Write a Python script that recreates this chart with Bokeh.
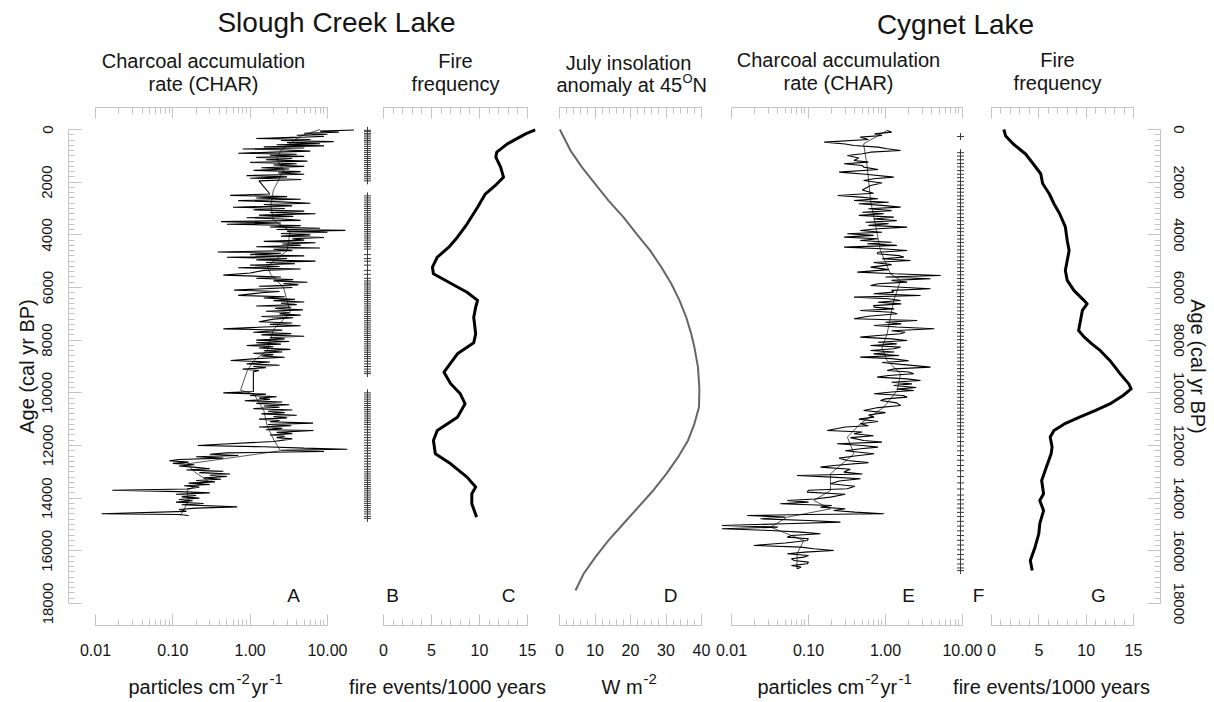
import math
from bokeh.plotting import figure
from bokeh.models import (Range1d, FixedTicker, LinearAxis, LogAxis, Label,
                          PrintfTickFormatter, LinearScale)
from bokeh.layouts import row, column
from bokeh.embed import file_html
from bokeh.resources import INLINE

# ---------------------------------------------------------------- data
# Slough Creek Lake: charcoal accumulation rate (raw series, A)
slough_char_age = [
    20, 60, 100, 140, 180, 220, 260, 300, 340, 380,
    420, 460, 500, 540, 580, 620, 660, 700, 740, 780,
    820, 860, 900, 940, 980, 1020, 1060, 1100, 1150, 1200,
    1250, 1300, 1350, 1400, 1450, 1500, 1550, 1600, 1650, 1700,
    1750, 1800, 1850, 1900, 1950, 2450, 2500, 2550, 2600, 2650,
    2700, 2750, 2800, 2850, 2900, 2950, 3000, 3050, 3100, 3150,
    3200, 3250, 3300, 3350, 3400, 3450, 3500, 3550, 3600, 3650,
    3700, 3750, 3800, 3830, 3870, 3900, 3950, 4000, 4050, 4100,
    4150, 4200, 4250, 4300, 4350, 4400, 4450, 4500, 4550, 4600,
    4650, 4700, 4750, 4800, 4850, 4900, 4950, 5000, 5050, 5100,
    5150, 5200, 5250, 5300, 5350, 5450, 5530, 5600, 5650, 5700,
    5750, 5800, 5850, 5900, 5950, 6000, 6100, 6150, 6200, 6300,
    6350, 6400, 6450, 6500, 6550, 6600, 6650, 6700, 6750, 6800,
    6850, 6900, 6950, 7000, 7050, 7100, 7150, 7200, 7300, 7350,
    7400, 7450, 7500, 7570, 7620, 7700, 7750, 7800, 7850, 7900,
    7950, 8000, 8050, 8100, 8150, 8200, 8250, 8300, 8350, 8400,
    8450, 8500, 8550, 8600, 8650, 8700, 8770, 8830, 8900, 8950,
    9000, 9050, 9100, 9150, 9200, 9950, 10000, 10050, 10100, 10150,
    10200, 10250, 10300, 10350, 10400, 10450, 10500, 10550, 10600, 10650,
    10700, 10750, 10800, 10850, 10900, 10950, 11000, 11050, 11100, 11150,
    11200, 11250, 11300, 11350, 11400, 11430, 11500, 11550, 11600, 11650,
    11700, 11750, 11850, 11950, 12000, 12050, 12100, 12140, 12180, 12230,
    12280, 12330, 12380, 12430, 12480, 12530, 12580, 12630, 12680, 12730,
    12780, 12830, 12880, 12930, 12980, 13030, 13080, 13130, 13180, 13230,
    13280, 13330, 13380, 13430, 13480, 13530, 13580, 13650, 13700, 13750,
    13800, 13850, 13900, 13950, 14000, 14050, 14100, 14150, 14200, 14250,
    14330, 14380, 14430, 14500, 14590, 14620, 14660,
]
slough_char = [
    22, 8, 14, 5, 10, 4, 9, 3.5, 1.2, 6,
    2.5, 12, 3, 8, 2.2, 9, 1.5, 5, 0.8, 3,
    6, 2, 0.7, 4, 1.8, 5, 1.2, 3.5, 1.6, 5.5,
    1.0, 4, 2, 5, 1.4, 3.2, 1.1, 4.5, 2.3, 5,
    0.9, 3, 1.0, 4.6, 1.3, 1.8, 0.55, 3, 1.2, 4.5,
    0.7, 2.5, 6, 1.5, 3.5, 0.6, 2.8, 1.1, 5, 1.8,
    7, 1.3, 3.6, 0.9, 2.6, 4.5, 0.42, 2.5, 0.5, 4.5,
    1.8, 8, 2.2, 17, 3, 10, 2.5, 6, 2.5, 9,
    3.5, 5, 1.5, 7, 2.6, 4.5, 1.2, 8, 2, 3.5,
    0.38, 2.5, 1.0, 5, 0.5, 3, 1.2, 7, 1.6, 3.8,
    1.0, 2.4, 0.7, 4.5, 1.5, 1.0, 0.45, 2.5, 1.2, 3.6,
    2, 5.5, 2.7, 4.2, 1.3, 3.5, 0.62, 2.4, 1.4, 0.7,
    2.8, 1.5, 3.8, 2.0, 5, 2.5, 4, 1.2, 3.4, 2.1,
    4.8, 1.6, 3.2, 2.4, 4.5, 1.4, 3.6, 2, 1.3, 3.5,
    1.8, 4.5, 1.5, 0.45, 2.6, 1.1, 3.4, 1.4, 5, 1.8,
    2.8, 1.2, 3.2, 1.2, 2.5, 0.9, 2.0, 1.3, 3.3, 1.5,
    2.6, 1.1, 2.0, 1.4, 2.8, 1.2, 0.56, 1.8, 0.9, 2.4,
    1.1, 1.6, 0.8, 1.3, 1.1, 1.1, 0.45, 1.6, 1.0, 2.2,
    1.3, 1.8, 0.85, 2.6, 1.2, 3.2, 1.5, 2.4, 1.1, 3.5,
    1.7, 2.8, 1.4, 4.0, 2.0, 3.0, 1.3, 2.4, 1.8, 6.5,
    1.7, 3.4, 1.3, 2.6, 1.6, 6.6, 2.2, 3.5, 1.8, 2.8,
    2.2, 3.5, 2.0, 0.4, 0.21, 1.5, 5, 18, 2.5, 9,
    0.5, 0.3, 0.7, 0.2, 0.45, 0.12, 0.09, 0.16, 0.1, 0.19,
    0.12, 0.2, 0.3, 0.15, 0.45, 0.22, 0.55, 0.3, 0.5, 0.25,
    0.42, 0.2, 0.35, 0.16, 0.3, 0.14, 0.22, 0.15, 0.0165, 0.12,
    0.3, 0.11, 0.2, 0.13, 0.22, 0.12, 0.18, 0.11, 0.25, 0.13,
    0.68, 0.2, 0.12, 0.15, 0.012, 0.12, 0.16,
]
# Slough Creek Lake: smoothed CHAR background
slough_smooth_age = [0, 250, 420, 800, 1100, 1560, 2300, 2900, 3450, 3850,
                     4600, 5200, 5500, 6000, 6500, 6950, 7600, 8400, 8770, 9150,
                     9900, 10050, 10670, 11250, 11800, 12200, 12450, 12700, 13000, 13330,
                     13700, 14100, 14650]
slough_smooth = [8, 4.5, 3.7, 2.5, 2.2, 2.7, 2.0, 1.85, 2.0, 3.3,
                 3.0, 1.66, 1.84, 2.7, 3.0, 3.3, 2.0, 1.66, 1.12, 0.92,
                 0.75, 1.12, 1.5, 1.66, 2.03, 2.47, 0.62, 0.153, 0.19, 0.28,
                 0.153, 0.16, 0.126]
# Slough Creek Lake: fire events (B)
slough_events = [30, 80, 150, 210, 280, 350, 420, 480, 560, 640, 720, 800, 870, 950,
                 1030, 1100, 1180, 1250, 1330, 1400, 1480, 1560, 1640, 1720, 1790, 1870,
                 1950, 2520, 2600, 2680, 2760, 2840, 2920, 3000, 3080, 3160, 3240, 3320,
                 3400, 3480, 3560, 3640, 3720, 3800, 3880, 3960, 4040, 4120, 4200, 4280,
                 4360, 4450, 4540, 4750, 4900, 5000, 5150, 5350, 5500, 5650, 5750, 5830,
                 5900, 5980, 6060, 6140, 6220, 6300, 6380, 6460, 6540, 6620, 6700, 6780,
                 6860, 6940, 7020, 7100, 7180, 7260, 7340, 7420, 7500, 7580, 7660, 7740,
                 7820, 7900, 7980, 8060, 8140, 8220, 8300, 8380, 8460, 8540, 8620, 8700,
                 8800, 8900, 9000, 9100, 9200, 9270, 10000, 10080, 10160, 10240, 10320,
                 10400, 10480, 10560, 10640, 10720, 10800, 10880, 10960, 11040, 11120,
                 11200, 11300, 11400, 11500, 11600, 11700, 11800, 11900, 12000, 12100,
                 12200, 12300, 12400, 12500, 12600, 12700, 12800, 12900, 13000, 13080,
                 13160, 13240, 13320, 13400, 13480, 13560, 13640, 13720, 13800, 13880,
                 13960, 14040, 14120, 14200, 14280, 14360, 14440, 14520, 14600, 14700, 14770]
# Slough Creek Lake: fire frequency (C)
slough_ff_age = [10, 165, 545, 860, 1050, 1430, 1810, 2070, 2450, 2950,
                 3590, 4090, 4470, 4850, 5230, 5480, 5800, 6180, 6490, 6750,
                 7130, 7760, 8100, 8518, 9214, 9657, 10037, 10417, 10923, 11429,
                 11809, 12315, 12695, 13201, 13580, 13834, 14214, 14720]
slough_ff = [15.8, 14.8, 12.9, 11.8, 11.7, 12.2, 12.5, 11.8, 10.6, 9.8,
             8.7, 7.7, 6.8, 5.6, 5.1, 5.2, 6.8, 8.7, 9.8, 9.6,
             9.4, 9.6, 9.4, 7.7, 6.3, 7.0, 8.0, 8.5, 7.7, 5.6,
             5.2, 5.4, 7.0, 8.7, 9.6, 9.2, 9.2, 9.7]
# July insolation anomaly at 45N (D)
insol_age = [0, 800, 1430, 2070, 2700, 3330, 3960, 4590, 5230, 5860,
             6490, 7130, 7760, 8270, 9024, 9846, 10543, 11176, 11809, 12442,
             13075, 13708, 14340, 14973, 15606, 16238, 16871, 17504]
insol = [0.1, 3.1, 6.3, 10.1, 13.8, 18.0, 21.7, 25.5, 28.7, 31.5,
         33.8, 35.7, 37.1, 38.0, 39.0, 39.4, 39.3, 38.0, 36.2, 33.4,
         30.1, 26.4, 22.2, 18.0, 13.8, 10.1, 6.8, 4.5]
# Cygnet Lake: charcoal accumulation rate (raw series, E)
cygnet_char_age = [
    38, 100, 165, 230, 291, 380, 481, 550, 608, 670,
    734, 797, 861, 920, 987, 1080, 1177, 1240, 1303, 1370,
    1430, 1520, 1620, 1700, 1810, 1870, 1936, 2030, 2126, 2300,
    2420, 2506, 2569, 2630, 2696, 2760, 2820, 2880, 2949, 3010,
    3080, 3140, 3200, 3260, 3329, 3400, 3460, 3520, 3580, 3640,
    3708, 3770, 3835, 3900, 3961, 4020, 4088, 4150, 4215, 4280,
    4341, 4400, 4468, 4530, 4594, 4660, 4721, 4790, 4848, 4910,
    4974, 5050, 5130, 5227, 5320, 5417, 5480, 5544, 5600, 5670,
    5730, 5797, 5860, 5923, 5990, 6050, 6110, 6176, 6240, 6303,
    6366, 6430, 6493, 6560, 6620, 6690, 6746, 6810, 6872, 6940,
    6999, 7090, 7189, 7252, 7320, 7380, 7442, 7500, 7568, 7640,
    7700, 7758, 7820, 7885, 7950, 8011, 8080, 8140, 8201, 8265,
    8328, 8391, 8450, 8520, 8580, 8645, 8700, 8780, 8850, 8920,
    9024, 9090, 9151, 9210, 9278, 9340, 9404, 9470, 9531, 9600,
    9660, 9721, 9800, 9860, 9911, 9970, 10037, 10100, 10164, 10230,
    10290, 10380, 10480, 10560, 10670, 10750, 10840, 10923, 11000, 11090,
    11176, 11250, 11300, 11429, 11490, 11556, 11630, 11700, 11809, 11870,
    11935, 12000, 12060, 12125, 12200, 12315, 12400, 12480, 12568, 12650,
    12758, 12821, 12900, 13011, 13080, 13138, 13200, 13265, 13350, 13454,
    13550, 13644, 13700, 13771, 13850, 13961, 14030, 14087, 14150, 14214,
    14280, 14340, 14400, 14467, 14530, 14594, 14620, 14657, 14720, 14784,
    14850, 14910, 14970, 15037, 15100, 15163, 15227, 15290, 15353, 15420,
    15480, 15540, 15606, 15700, 15796, 15860, 15923, 15986, 16050, 16113,
    16180, 16239, 16300, 16366, 16430, 16492, 16560, 16619, 16682,
]
cygnet_char = [
    1.05, 1.2, 0.72, 0.9, 0.47, 0.6, 0.16, 0.3, 0.39, 0.8,
    1.05, 1.57, 0.64, 0.5, 0.32, 0.45, 0.39, 0.6, 0.29, 0.5,
    0.52, 0.8, 0.25, 0.55, 1.28, 0.7, 0.52, 0.9, 0.64, 0.5,
    0.7, 0.24, 0.47, 0.8, 0.39, 1.1, 0.45, 0.9, 1.57, 0.6,
    1.2, 0.5, 0.95, 0.45, 1.28, 0.7, 1.4, 0.55, 1.1, 0.6,
    1.91, 0.8, 0.47, 0.9, 0.32, 0.7, 0.29, 0.8, 0.47, 1.2,
    0.58, 1.4, 0.29, 0.9, 1.91, 0.8, 0.78, 1.5, 1.73, 0.9,
    2.11, 0.7, 1.2, 0.64, 1.1, 0.43, 1.3, 5.2, 1.0, 3.84,
    1.2, 1.91, 0.8, 0.64, 1.6, 3.84, 1.2, 1.28, 0.7, 2.85,
    0.39, 1.1, 1.57, 0.8, 1.6, 0.7, 0.71, 1.3, 0.47, 1.2,
    1.42, 0.6, 0.39, 2.58, 1.0, 1.6, 0.71, 1.4, 4.3, 1.2,
    1.8, 1.57, 0.8, 0.47, 1.2, 1.91, 0.8, 1.4, 0.64, 1.57,
    1.28, 0.64, 1.3, 0.7, 1.5, 0.47, 1.2, 2.0, 0.9, 1.6,
    3.84, 1.3, 1.05, 2.0, 2.33, 1.1, 0.78, 1.9, 2.85, 1.2,
    2.2, 1.28, 2.5, 1.4, 2.33, 1.2, 0.71, 1.7, 1.91, 1.0,
    0.86, 1.4, 1.57, 0.8, 0.52, 1.0, 0.6, 0.71, 0.45, 0.8,
    0.47, 0.6, 0.3, 0.175, 0.5, 0.39, 0.7, 0.35, 0.52, 0.9,
    0.236, 0.5, 0.8, 0.473, 0.3, 0.71, 0.4, 0.25, 0.318, 0.6,
    0.213, 0.143, 0.35, 0.288, 0.5, 0.071, 0.2, 0.473, 0.25, 0.193,
    0.4, 0.318, 0.1, 0.096, 0.3, 0.193, 0.12, 0.053, 0.1, 0.043,
    0.2, 0.143, 0.3, 0.213, 0.4, 0.95, 0.1, 0.016, 0.05, 0.0238,
    0.1, 0.26, 0.05, 0.0075, 0.04, 0.0075, 0.032, 0.08, 0.143, 0.06,
    0.053, 0.1, 0.096, 0.05, 0.0195, 0.08, 0.117, 0.213, 0.09, 0.053,
    0.1, 0.087, 0.06, 0.065, 0.1, 0.096, 0.06, 0.08, 0.071,
]
# Cygnet Lake: smoothed CHAR background
cygnet_smooth_age = [38, 544, 1430, 2696, 3961, 4594, 5480, 5733, 6493, 7758,
                     8300, 8771, 9278, 9911, 10543, 11176, 11682, 12315, 13075, 13708,
                     14087, 14404, 14720, 15100, 15606, 16113, 16680]
cygnet_smooth = [1.05, 0.52, 0.58, 0.64, 0.78, 0.86, 1.16, 1.57, 1.28, 1.05,
                 0.9, 1.05, 1.57, 1.42, 0.95, 0.47, 0.32, 0.39, 0.193, 0.193,
                 0.117, 0.193, 0.053, 0.032, 0.087, 0.071, 0.071]
# Cygnet Lake: fire events (F)
cygnet_events = [266, 880, 1010, 1150, 1290, 1420, 1560, 1700, 1830, 1970, 2110, 2240,
                 2380, 2520, 2650, 2790, 2930, 3060, 3200, 3340, 3470, 3610, 3750, 3880,
                 4020, 4160, 4290, 4430, 4570, 4700, 4840, 4980, 5110, 5250, 5390, 5520,
                 5660, 5800, 5930, 6070, 6210, 6340, 6480, 6620, 6750, 6890, 7030, 7160,
                 7300, 7440, 7570, 7710, 7850, 7980, 8120, 8260, 8390, 8530, 8670, 8800,
                 8940, 9080, 9210, 9350, 9490, 9620, 9760, 9900, 10030, 10170, 10310,
                 10440, 10580, 10720, 10850, 10990, 11130, 11260, 11400, 11540, 11680,
                 11850, 12020, 12200, 12380, 12560, 12760, 12960, 13180, 13420, 13650,
                 13880, 14060, 14220, 14380, 14540, 14700, 14880, 15060, 15240, 15420,
                 15600, 15780, 15960, 16140, 16320, 16500, 16650, 16750]
# Cygnet Lake: fire frequency (G)
cygnet_ff_age = [0, 250, 550, 930, 1300, 1680, 2050, 2440, 2820, 3200,
                 3700, 4215, 4600, 4975, 5355, 5730, 6110, 6430, 6620, 6870,
                 7250, 7630, 7885, 8140, 8400, 8770, 9280, 9660, 9850, 10100,
                 10420, 10670, 10920, 11180, 11430, 11680, 12060, 12315, 12820, 13330,
                 13830, 14090, 14470, 14970, 15350, 15860, 16370, 16750]
cygnet_ff = [1.3, 1.5, 2.3, 3.6, 4.4, 5.2, 5.4, 6.1, 6.6, 7.2,
             7.8, 8.0, 8.2, 8.0, 7.8, 8.0, 8.7, 9.6, 10.1, 9.6,
             9.4, 9.2, 9.8, 10.6, 11.5, 12.5, 13.6, 14.5, 14.75, 13.9,
             12.5, 11.0, 9.3, 7.7, 6.6, 6.2, 6.4, 6.3, 5.8, 5.3,
             5.5, 5.1, 5.5, 5.1, 5.0, 4.6, 4.1, 4.3]

# tick labels
age_ticks = [0, 2000, 4000, 6000, 8000, 10000, 12000, 14000, 16000, 18000]
char_ticks = [0.01, 0.1, 1, 10]
ff_ticks = [0, 5, 10, 15]
insol_ticks = [0, 10, 20, 30, 40]

# ---------------------------------------------------------------- layout / style
FONT = "Liberation Sans"
AXC = "#c4c4c4"
TXT = "#141414"
PAGE_W = 1212

AGE0_PY, AGE18K_PY = 129, 603          # page px of ages 0 and 18000
FRAME_TOP_PY, FRAME_BOT_PY = 107, 625
ROW_TOP_PY, PANEL_H = 100, 567
FOOT_BOT_PY = 700
PX_PER_YR = (AGE18K_PY - AGE0_PY) / 18000.0


def py_to_age(py):
    return (py - AGE0_PY) / PX_PER_YR


age_range = Range1d(start=py_to_age(FRAME_BOT_PY), end=py_to_age(FRAME_TOP_PY))


def lin_map(pa, va, pb, vb):
    k = (vb - va) / (pb - pa)
    return lambda px: va + (px - pa) * k


def log_map(pa, va, pb, vb):
    la, lb = math.log10(va), math.log10(vb)
    k = (lb - la) / (pb - pa)
    return lambda px: 10 ** (la + (px - pa) * k)


def style_axis(ax, labels=True):
    ax.axis_line_color = AXC
    ax.major_tick_line_color = AXC
    ax.minor_tick_line_color = AXC
    ax.major_tick_in = 11
    ax.major_tick_out = 0
    ax.minor_tick_in = 6
    ax.minor_tick_out = 0
    ax.major_label_text_font = FONT
    ax.major_label_text_color = TXT
    ax.axis_label_text_font = FONT
    ax.axis_label_text_font_style = "normal"
    ax.axis_label_text_color = TXT
    if labels:
        ax.major_label_text_font_size = "16px"
        ax.major_label_standoff = 18
    else:
        ax.major_label_text_font_size = "0px"
        ax.major_label_standoff = 0


def panel(fx0, fx1, frx0, frx1, xmap, log):
    p = figure(width=fx1 - fx0, height=PANEL_H,
               x_range=Range1d(xmap(frx0), xmap(frx1)), y_range=age_range,
               x_axis_type="log" if log else "linear",
               x_axis_location=None, y_axis_location=None,
               output_backend="svg", toolbar_location=None,
               min_border_left=frx0 - fx0, min_border_right=fx1 - frx1,
               min_border_top=FRAME_TOP_PY - ROW_TOP_PY,
               min_border_bottom=ROW_TOP_PY + PANEL_H - FRAME_BOT_PY)
    p.outline_line_color = None
    p.grid.visible = False
    p.background_fill_color = "white"
    p.border_fill_color = "white"
    return p


def add_x_axes(p, log, ticks, minor, bounds, fmt=None):
    Ax = LogAxis if log else LinearAxis
    for loc in ("below", "above"):
        ax = Ax(ticker=FixedTicker(ticks=ticks, minor_ticks=minor), bounds=bounds)
        if fmt is not None:
            ax.formatter = fmt
        style_axis(ax, labels=(loc == "below"))
        if loc == "above":
            ax.major_label_overrides = {t: "" for t in ticks}
        p.add_layout(ax, loc)


def letter(p, x, text):
    p.add_layout(Label(x=x, y=py_to_age(595), text=text, text_align="center",
                       text_baseline="middle", text_font=FONT, text_font_size="19px",
                       text_color=TXT))


log_minor = [k * 10 ** e for e in (-2, -1, 0) for k in range(2, 10)]
age_minor = list(range(0, 18001, 200))

# ---- panel A (+B markers)
mapA = log_map(95, 0.01, 327, 10)
pA = panel(0, 376, 68, 376, mapA, True)
pA.extra_x_ranges = {"b": Range1d(68 - 367, 376 - 367)}
pA.extra_x_scales = {"b": LinearScale()}
add_x_axes(pA, True, char_ticks, log_minor, (0.01, 10), PrintfTickFormatter(format="%.2f"))
yl = LinearAxis(ticker=FixedTicker(ticks=age_ticks, minor_ticks=age_minor), bounds=(0, 18000),
                axis_label="Age (cal yr BP)", major_label_orientation="vertical")
style_axis(yl)
yl.major_label_text_font_size = "15px"
yl.major_label_standoff = 16
yl.major_tick_in = 13
yl.axis_label_standoff = 2
yl.axis_label_text_font_size = "20px"
pA.add_layout(yl, "left")
pA.line(slough_smooth, slough_smooth_age, line_color="#555555", line_width=1)
pA.line(slough_char, slough_char_age, line_color="black", line_width=1.1)
pA.scatter([0] * len(slough_events), slough_events, marker="cross", size=7,
           line_color="#3a3a3a", line_width=1, x_range_name="b")
letter(pA, mapA(293), "A")

# ---- panel C
mapC = lin_map(383, 0, 527, 15)
pC = panel(376, 545, 376, 545, mapC, False)
add_x_axes(pC, False, ff_ticks, list(range(0, 16)), (0, 15))
pC.line(slough_ff, slough_ff_age, line_color="black", line_width=3, line_join="round")
letter(pC, mapC(392), "B")
letter(pC, mapC(508), "C")

# ---- panel D
mapD = lin_map(559, 0, 701, 40)
pD = panel(545, 715, 545, 715, mapD, False)
add_x_axes(pD, False, insol_ticks, list(range(0, 41, 2)), (0, 40))
pD.line(insol, insol_age, line_color="#666666", line_width=2)
letter(pD, mapD(670), "D")

# ---- panel E (+F markers)
mapE = log_map(731, 0.01, 962, 10)
pE = panel(715, 985, 715, 985, mapE, True)
pE.extra_x_ranges = {"f": Range1d(715 - 960, 985 - 960)}
pE.extra_x_scales = {"f": LinearScale()}
add_x_axes(pE, True, char_ticks, log_minor, (0.01, 10), PrintfTickFormatter(format="%.2f"))
pE.line(cygnet_smooth, cygnet_smooth_age, line_color="#555555", line_width=1)
pE.line(cygnet_char, cygnet_char_age, line_color="black", line_width=1.1)
pE.scatter([0] * len(cygnet_events), cygnet_events, marker="cross", size=7,
           line_color="#3a3a3a", line_width=1, x_range_name="f")
letter(pE, mapE(908), "E")
letter(pE, mapE(978), "F")

# ---- panel G
mapG = lin_map(991, 0, 1133, 15)
pG = panel(985, PAGE_W, 985, 1160, mapG, False)
add_x_axes(pG, False, ff_ticks, list(range(0, 16)), (0, 15))
yr = LinearAxis(ticker=FixedTicker(ticks=age_ticks, minor_ticks=age_minor), bounds=(0, 18000),
                axis_label="Age (cal yr BP)", major_label_orientation="vertical")
style_axis(yr)
yr.major_label_text_font_size = "15px"
yr.major_label_standoff = 13
yr.major_tick_in = 13
yr.axis_label_standoff = 0
yr.axis_label_text_font_size = "20px"
pG.add_layout(yr, "right")
pG.line(cygnet_ff, cygnet_ff_age, line_color="black", line_width=3, line_join="round")
letter(pG, mapG(1098), "G")


# ---- header / footer strips (page-pixel coordinates)
def strip(y0, y1):
    f = figure(width=PAGE_W, height=y1 - y0, x_range=Range1d(0, PAGE_W), y_range=Range1d(y1, y0),
               x_axis_location=None, y_axis_location=None,
               output_backend="svg", toolbar_location=None, min_border=0)
    f.outline_line_color = None
    f.grid.visible = False
    return f


def txt(f, x, y, s, size, align="center"):
    f.add_layout(Label(x=x, y=y, text=s, text_align=align, text_baseline="middle",
                       text_font=FONT, text_font_size=size, text_color=TXT))


hdr = strip(0, ROW_TOP_PY)
txt(hdr, 336, 22, "Slough Creek Lake", "28px")
txt(hdr, 955, 24, "Cygnet Lake", "28px")
txt(hdr, 203, 60, "Charcoal accumulation", "20px")
txt(hdr, 203, 83, "rate (CHAR)", "20px")
txt(hdr, 455, 60, "Fire", "20px")
txt(hdr, 455, 83, "frequency", "20px")
txt(hdr, 628, 62, "July insolation", "20px")
txt(hdr, 556, 84, "anomaly at 45", "20px", align="left")
txt(hdr, 682, 78, "O", "13px", align="left")
txt(hdr, 692, 84, "N", "20px", align="left")
txt(hdr, 838, 59, "Charcoal accumulation", "20px")
txt(hdr, 838, 82, "rate (CHAR)", "20px")
txt(hdr, 1057, 59, "Fire", "20px")
txt(hdr, 1057, 82, "frequency", "20px")

ftr = strip(ROW_TOP_PY + PANEL_H, FOOT_BOT_PY)
MY = 686      # middle of main unit text
SY = 678      # middle of superscripts
for x0 in (128, 757):
    txt(ftr, x0, MY, "particles cm", "20px", align="left")
    txt(ftr, x0 + 108, SY, "-2", "15px", align="left")
    txt(ftr, x0 + 123, MY, "yr", "20px", align="left")
    txt(ftr, x0 + 141, SY, "-1", "15px", align="left")
txt(ftr, 447, MY, "fire events/1000 years", "20px")
txt(ftr, 1051, MY, "fire events/1000 years", "20px")
txt(ftr, 601, MY, "W m", "20px", align="left")
txt(ftr, 643, SY, "-2", "15px", align="left")

layout = column(hdr, row(pA, pC, pD, pE, pG), ftr)
open("out.html", "w").write(file_html(layout, INLINE))
